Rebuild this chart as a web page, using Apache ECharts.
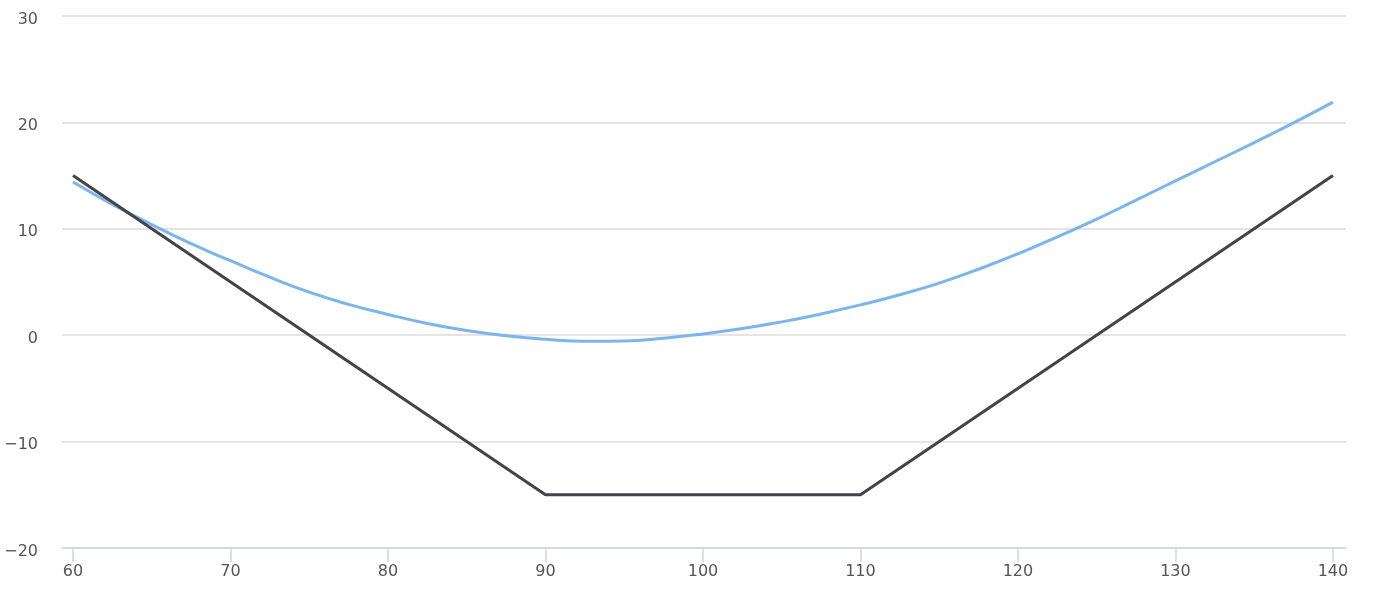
<!DOCTYPE html>
<html>
<head>
<meta charset="utf-8">
<script src="https://cdn.jsdelivr.net/npm/echarts@6/dist/echarts.min.js"></script>
<style>
html,body{margin:0;padding:0;background:#fff;}
#chart{width:1374px;height:602px;}
</style>
</head>
<body>
<div id="chart"></div>
<script>
// Data
var xTicks = [60, 70, 80, 90, 100, 110, 120, 130, 140];
var curveX = [60, 62.5, 65, 67.5, 70, 72.5, 75, 77.5, 80, 82.5, 85, 87.5, 90, 92.5, 95, 97.5, 100,
              102.5, 105, 107.5, 110, 112.5, 115, 117.5, 120, 122.5, 125, 127.5, 130, 132.5, 135, 137.5, 140];
var curveY = [14.4, 12.3, 10.4, 8.6, 7.0, 5.45, 4.05, 2.9, 1.95, 1.1, 0.45, -0.05, -0.38, -0.57, -0.54, -0.28, 0.12,
              0.62, 1.25, 2.0, 2.85, 3.8, 4.9, 6.2, 7.65, 9.25, 10.9, 12.7, 14.5, 16.3, 18.1, 19.95, 21.9];
var payoffX = [60, 90, 110, 140];
var payoffY = [15, -15, -15, 15];

function pairs(xs, ys) { return xs.map(function (x, i) { return [x, ys[i]]; }); }

var chart = echarts.init(document.getElementById('chart'), null, { renderer: 'canvas' });
var font = '"DejaVu Sans", sans-serif';
chart.setOption({
  animation: false,
  backgroundColor: '#ffffff',
  grid: { left: 62, right: 28, top: 16, bottom: 54, containLabel: false },
  xAxis: {
    type: 'value',
    position: 'bottom',
    min: 59.3,
    max: 140.83,
    axisLine: { show: true, onZero: false, lineStyle: { color: '#ccd6eb', width: 1.5 } },
    axisTick: { show: true, inside: false, customValues: xTicks, length: 14, lineStyle: { color: '#ccd6eb', width: 1.5 } },
    axisLabel: { customValues: xTicks, color: '#555555', fontSize: 16, fontFamily: font, margin: 16 },
    splitLine: { show: false }
  },
  yAxis: {
    type: 'value',
    min: -20,
    max: 30,
    interval: 10,
    axisLine: { show: false },
    axisTick: { show: false },
    axisLabel: {
      color: '#555555', fontSize: 16, fontFamily: font, margin: 24,
      formatter: function (v) { return '{a|' + (v < 0 ? '\u2212' + Math.abs(v) : String(v)) + '}'; },
      rich: { a: { color: '#555555', fontSize: 16, fontFamily: font, padding: [7, 0, 0, 0] } }
    },
    splitLine: { show: true, lineStyle: { color: '#dcdcdc', width: 1.5 } }
  },
  series: [
    {
      type: 'line',
      data: pairs(curveX, curveY),
      smooth: true,
      showSymbol: false,
      lineStyle: { color: '#7cb5ec', width: 3 },
      itemStyle: { color: '#7cb5ec' },
      z: 2
    },
    {
      type: 'line',
      data: pairs(payoffX, payoffY),
      showSymbol: false,
      lineStyle: { color: '#434348', width: 3 },
      itemStyle: { color: '#434348' },
      z: 3
    }
  ]
});
</script>
</body>
</html>
